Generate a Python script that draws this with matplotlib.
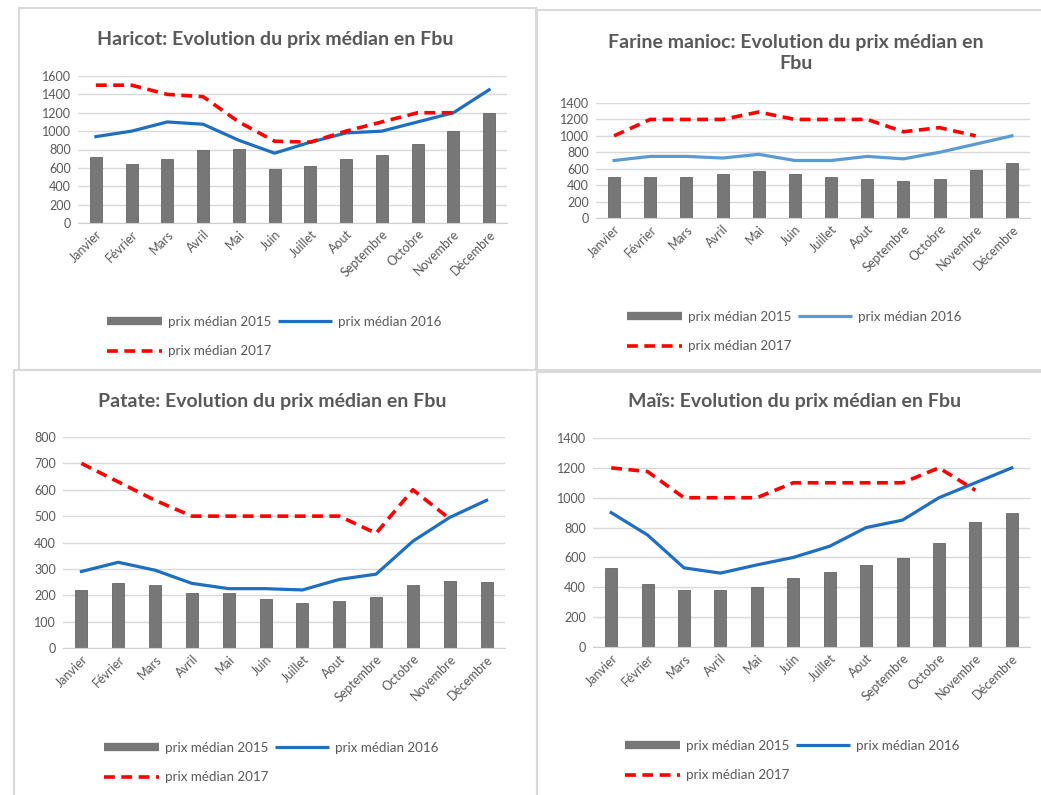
import numpy as np
import matplotlib
matplotlib.use('Agg')
import matplotlib.pyplot as plt
from matplotlib.lines import Line2D
from matplotlib.patches import Rectangle

plt.rcParams['font.family'] = ['Lato', 'DejaVu Sans']

mois = ['Janvier', 'Février', 'Mars', 'Avril', 'Mai', 'Juin', 'Juillet',
        'Aout', 'Septembre', 'Octobre', 'Novembre', 'Décembre']
nan = np.nan

# Haricot
haricot_2015 = [715, 640, 700, 800, 810, 590, 620, 700, 735, 865, 1000, 1200]
haricot_2016 = [940, 1000, 1100, 1075, 900, 760, 880, 980, 1000, 1100, 1200, 1450]
haricot_2017 = [1500, 1500, 1400, 1375, 1100, 890, 880, 1000, 1100, 1200, 1200, nan]

# Farine manioc
farine_2015 = [500, 500, 500, 530, 570, 530, 500, 475, 450, 480, 580, 665]
farine_2016 = [700, 750, 750, 730, 775, 700, 700, 750, 720, 800, 900, 1000]
farine_2017 = [1000, 1200, 1200, 1200, 1290, 1200, 1200, 1200, 1050, 1100, 1000, nan]

# Patate
patate_2015 = [220, 245, 240, 210, 210, 185, 170, 180, 195, 240, 255, 250]
patate_2016 = [290, 325, 295, 245, 225, 225, 220, 260, 280, 405, 495, 560]
patate_2017 = [700, 630, 560, 500, 500, 500, 500, 500, 435, 600, 490, nan]

# Mais
mais_2015 = [530, 420, 380, 385, 400, 460, 500, 550, 595, 700, 835, 900]
mais_2016 = [900, 750, 530, 495, 550, 600, 675, 800, 850, 1000, 1100, 1200]
mais_2017 = [1200, 1175, 1000, 1000, 1000, 1100, 1100, 1100, 1100, 1200, 1050, nan]

W, H = 1041, 795
fig = plt.figure(figsize=(W / 100, H / 100), dpi=100)

gris_txt = '#595959'
gris_barre = '#777777'
rouge = '#ff0000'


def fx(px):
    return px / W


def fy(py):
    return 1 - py / H


# cadres des 4 graphiques
for x0, y0, x1, y1 in [(19, 8, 536, 370), (537, 10, 1045, 370),
                       (14, 370, 537, 800), (537, 372, 1045, 800)]:
    fig.patches.append(Rectangle((fx(x0), fy(y1)), (x1 - x0) / W, (y1 - y0) / H,
                                 transform=fig.transFigure, fill=False,
                                 edgecolor='#d9d9d9', lw=1.5))


def panneau(titre, tx, ty, box, ymax, pas, v15, v16, v17, bleu, leg):
    l, t, r, b = box
    ax = fig.add_axes([fx(l), fy(b), (r - l) / W, (b - t) / H])
    x = np.arange(len(mois))
    ax.bar(x, v15, width=0.33, color=gris_barre, edgecolor='#666666', lw=0.6, zorder=2)
    ax.plot(x, v16, color=bleu, lw=2.3, zorder=3)
    ax.plot(x, v17, color=rouge, lw=2.6, ls=(0, (3, 1.8)), zorder=4)
    ax.set_xlim(-0.5, 11.5)
    ax.set_ylim(0, ymax)
    ax.set_yticks(np.arange(0, ymax + 1, pas))
    ax.grid(axis='y', color='#d9d9d9', lw=1, zorder=0)
    for s in ['top', 'right', 'left']:
        ax.spines[s].set_visible(False)
    ax.spines['bottom'].set_color('#d0d0d0')
    ax.tick_params(length=0, labelsize=9, colors=gris_txt)
    ax.tick_params(axis='y', pad=5)
    ax.set_xticks(x)
    ax.set_xticklabels(mois, rotation=45, ha='right', rotation_mode='anchor')
    fig.text(fx(tx), fy(ty), titre, ha='center', va='center', fontsize=14,
             fontweight='bold', color=gris_txt, linespacing=1.25)
    poignees = [Line2D([], [], color=gris_barre, lw=6, solid_capstyle='butt'),
                Line2D([], [], color=rouge, lw=2.6, ls=(0, (3, 1.8))),
                Line2D([], [], color=bleu, lw=2.3, solid_capstyle='butt')]
    noms = ['prix médian 2015', 'prix médian 2017', 'prix médian 2016']
    lx, ly = leg
    fig.legend(poignees, noms, ncol=2, loc='upper left',
               bbox_to_anchor=(fx(lx), fy(ly)), frameon=False, fontsize=9.6,
               labelcolor=gris_txt, handlelength=4.1, handletextpad=0.45,
               columnspacing=0.5, labelspacing=1.3, borderpad=0, borderaxespad=0)
    return ax


panneau('Haricot: Evolution du prix médian en Fbu', 275, 39,
        (78, 76, 507, 223), 1600, 200,
        haricot_2015, haricot_2016, haricot_2017, '#1f6fc0', (107, 316))
panneau('Farine manioc: Evolution du prix médian en\nFbu', 796, 53,
        (596, 103, 1030, 218), 1400, 200,
        farine_2015, farine_2016, farine_2017, '#5b9bd5', (627, 311))
panneau('Patate: Evolution du prix médian en Fbu', 272, 401,
        (63, 437, 505, 648), 800, 100,
        patate_2015, patate_2016, patate_2017, '#1f6fc0', (104, 742))
panneau('Maïs: Evolution du prix médian en Fbu', 795, 401,
        (593, 438, 1030, 647), 1400, 200,
        mais_2015, mais_2016, mais_2017, '#1f6fc0', (625, 740))

fig.savefig('out.png', dpi=100)
